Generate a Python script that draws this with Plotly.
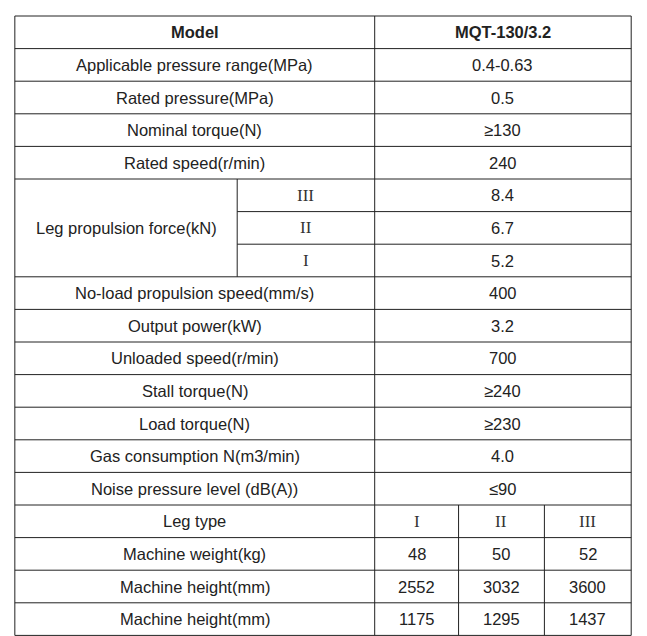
import plotly.graph_objects as go

# single-row parameters: (label, value)
params_top = [
    ("Applicable pressure range(MPa)", "0.4-0.63"),
    ("Rated pressure(MPa)", "0.5"),
    ("Nominal torque(N)", "≥130"),
    ("Rated speed(r/min)", "240"),
]
leg_force_label = "Leg propulsion force(kN)"
leg_force_grades = ["III", "II", "I"]
leg_force_values = ["8.4", "6.7", "5.2"]
params_mid = [
    ("No-load propulsion speed(mm/s)", "400"),
    ("Output power(kW)", "3.2"),
    ("Unloaded speed(r/min)", "700"),
    ("Stall torque(N)", "≥240"),
    ("Load torque(N)", "≥230"),
    ("Gas consumption N(m3/min)", "4.0"),
    ("Noise pressure level (dB(A))", "≤90"),
]
leg_types = ["I", "II", "III"]
params_bottom = [
    ("Machine weight(kg)", ["48", "50", "52"]),
    ("Machine height(mm)", ["2552", "3032", "3600"]),
    ("Machine height(mm)", ["1175", "1295", "1437"]),
]

X0, XS, XM, XR = 7, 235, 376, 639
XC = [376, 462, 550, 639]
Y0, RH = 8, 32.6

fig = go.Figure()
shapes, ann = [], []
FONT = dict(family="Liberation Sans, Arial", size=16.5, color="#222")
SERIF = dict(family="Liberation Serif, Times New Roman", size=17, color="#333")


def line(x0, y0, x1, y1, w=1):
    shapes.append(dict(type="line", x0=x0, y0=y0, x1=x1, y1=y1,
                       line=dict(color="#222", width=w)))


def text(x, y, s, font=FONT):
    ann.append(dict(x=x, y=y, text=s, showarrow=False, font=font,
                    xanchor="center", yanchor="middle"))


row = 0
text((X0 + XM) / 2, Y0 + RH / 2, "<b>Model</b>")
text((XM + XR) / 2, Y0 + RH / 2, "<b>MQT-130/3.2</b>")
row += 1
for lab, val in params_top:
    y = Y0 + RH * (row + 0.5)
    text((X0 + XM) / 2, y, lab)
    text((XM + XR) / 2, y, val)
    row += 1
start = row
for g, v in zip(leg_force_grades, leg_force_values):
    y = Y0 + RH * (row + 0.5)
    text((XS + XM) / 2, y, g, SERIF)
    text((XM + XR) / 2, y, v)
    row += 1
text((X0 + XS) / 2, Y0 + RH * (start + 1.5), leg_force_label)
for lab, val in params_mid:
    y = Y0 + RH * (row + 0.5)
    text((X0 + XM) / 2, y, lab)
    text((XM + XR) / 2, y, val)
    row += 1
lt_row = row
y = Y0 + RH * (row + 0.5)
text((X0 + XM) / 2, y, "Leg type")
for i, t in enumerate(leg_types):
    text((XC[i] + XC[i + 1]) / 2, y, t, SERIF)
row += 1
for lab, vals in params_bottom:
    y = Y0 + RH * (row + 0.5)
    text((X0 + XM) / 2, y, lab)
    for i, v in enumerate(vals):
        text((XC[i] + XC[i + 1]) / 2, y, v)
    row += 1
n = row
YB = Y0 + RH * n

# grid lines
for r in range(n + 1):
    yy = Y0 + RH * r
    if start < r < start + 3:
        line(XS, yy, XR, yy)
    else:
        line(X0, yy, XR, yy)
line(X0, Y0, X0, YB)
line(XR, Y0, XR, YB)
line(XM, Y0, XM, YB)
line(XS, Y0 + RH * start, XS, Y0 + RH * (start + 3))
for xc in XC[1:3]:
    line(xc, Y0 + RH * lt_row, xc, YB)

fig.update_layout(
    autosize=True, margin=dict(l=0, r=0, t=0, b=0),
    plot_bgcolor="white", paper_bgcolor="white",
    xaxis=dict(range=[0, 647], visible=False, fixedrange=True),
    yaxis=dict(range=[636, 0], visible=False, fixedrange=True),
    shapes=shapes, annotations=ann, showlegend=False,
)
fig.write_html("out.html", default_width="100%", default_height="100vh")
